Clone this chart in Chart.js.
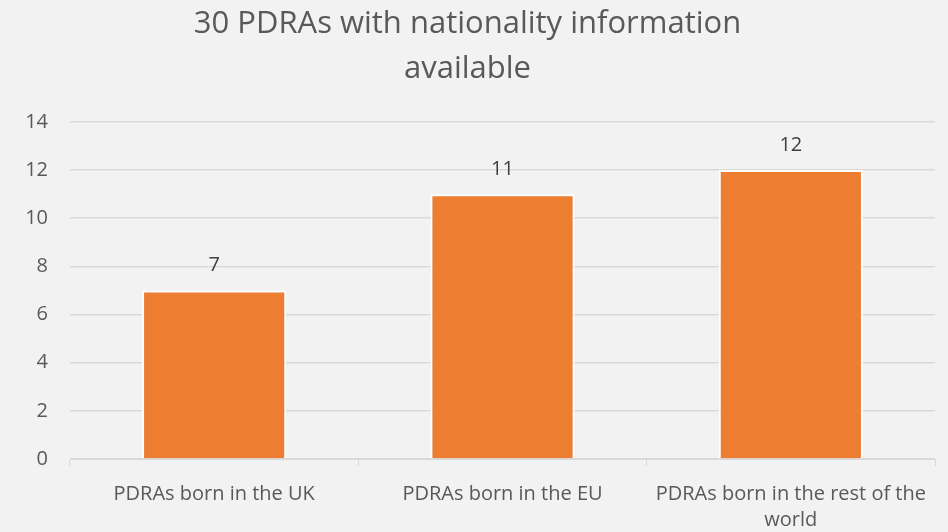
<!DOCTYPE html>
<html>
<head>
<meta charset="utf-8">
<script src="https://cdn.jsdelivr.net/npm/chart.js@4"></script>
<style>
  html, body { margin: 0; padding: 0; background: #f2f2f2; }
  #wrap { width: 948px; height: 532px; position: relative; }
</style>
</head>
<body>
<div id="wrap"><canvas id="chart"></canvas></div>
<script>
  // Datos
  const categories = [
    "PDRAs born in the UK",
    "PDRAs born in the EU",
    ["PDRAs born in the rest of the", "world"],
  ];
  const values = [7, 11, 12];
  const titleLines = ["30 PDRAs with nationality information", "available"];

  const FONT = "'Open Sans', 'Noto Sans', sans-serif";

  // Etiquetas de valor sobre cada barra
  const valueLabels = {
    id: "valueLabels",
    afterDatasetsDraw(chart) {
      const { ctx } = chart;
      const meta = chart.getDatasetMeta(0);
      ctx.save();
      ctx.font = "20px " + FONT;
      ctx.fillStyle = "#404040";
      ctx.textAlign = "center";
      ctx.textBaseline = "middle";
      meta.data.forEach((bar, i) => {
        ctx.fillText(String(values[i]), bar.x, bar.y - 25);
      });
      ctx.restore();
    },
  };

  new Chart(document.getElementById("chart"), {
    type: "bar",
    data: {
      labels: categories,
      datasets: [
        {
          data: values,
          backgroundColor: "#ed7d31",
          borderColor: "#ffffff",
          borderWidth: 2,
          categoryPercentage: 1,
          barPercentage: 0.5,
        },
      ],
    },
    options: {
      responsive: true,
      maintainAspectRatio: false,
      animation: false,
      layout: { padding: { top: 0, right: 13, bottom: 0, left: 0 } },
      plugins: {
        legend: { display: false },
        tooltip: { enabled: false },
        title: {
          display: true,
          text: titleLines,
          color: "#595959",
          font: { family: FONT, size: 31, weight: "normal", lineHeight: 1.45 },
          padding: { top: 2, bottom: 30 },
        },
      },
      scales: {
        x: {
          offset: true,
          grid: {
            offset: true,
            drawOnChartArea: false,
            drawTicks: true,
            tickLength: 7,
            color: "#d9d9d9",
          },
          border: { color: "#d9d9d9", width: 1 },
          ticks: {
            color: "#595959",
            font: { family: FONT, size: 20, lineHeight: 1.3 },
            padding: 15,
            maxRotation: 0,
          },
          afterFit: (s) => { s.height = 73; },
        },
        y: {
          min: 0,
          max: 14,
          ticks: {
            stepSize: 2,
            color: "#595959",
            font: { family: FONT, size: 20 },
            padding: 22,
          },
          grid: { color: "#d9d9d9", lineWidth: 1.5, drawTicks: false },
          border: { display: false },
          afterFit: (s) => { s.width = 70; },
        },
      },
    },
    plugins: [valueLabels],
  });
</script>
</body>
</html>
